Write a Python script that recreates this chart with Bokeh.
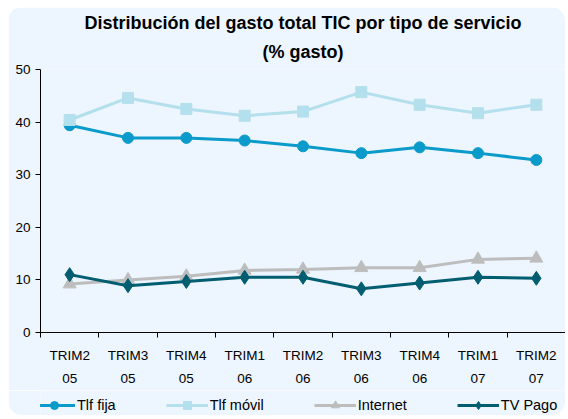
from bokeh.plotting import figure
from bokeh.models import FixedTicker, Legend, LegendItem, Title, Range1d
from bokeh.layouts import column
from bokeh.embed import file_html
from bokeh.resources import INLINE

categories = ["TRIM2\n05", "TRIM3\n05", "TRIM4\n05", "TRIM1\n06", "TRIM2\n06",
              "TRIM3\n06", "TRIM4\n06", "TRIM1\n07", "TRIM2\n07"]
tlf_fija = [39.4, 37.0, 37.0, 36.5, 35.4, 34.1, 35.2, 34.1, 32.8]
tlf_movil = [40.4, 44.6, 42.5, 41.2, 42.0, 45.7, 43.3, 41.7, 43.3]
internet = [9.2, 10.0, 10.7, 11.8, 12.0, 12.3, 12.3, 13.9, 14.1]
tv_pago = [11.0, 8.9, 9.7, 10.5, 10.5, 8.3, 9.4, 10.5, 10.3]
y_ticks = [0, 10, 20, 30, 40, 50]

BG = "#EDF5FE"
FONT = "Liberation Sans"

xs = [i + 0.5 for i in range(len(categories))]

p = figure(frame_width=525, frame_height=263, output_backend="svg", toolbar_location=None,
           x_range=Range1d(0, len(categories)), y_range=Range1d(0, 50),
           min_border_left=32, min_border_right=0, min_border_top=62, min_border_bottom=58,
           background_fill_color=BG, border_fill_color=BG,
           styles={"border-top-left-radius": "14px", "border-top-right-radius": "14px",
                   "overflow": "hidden"})
p.outline_line_color = None
p.grid.visible = False

t2 = Title(text="(% gasto)", align="center", text_font=FONT, text_font_size="18px",
           text_font_style="bold", text_color="black", standoff=15,
           text_line_height=0.8)
t1 = Title(text="Distribución del gasto total TIC por tipo de servicio", align="center",
           text_font=FONT, text_font_size="18px", text_font_style="bold",
           text_color="black", standoff=0, text_line_height=0.8)
p.add_layout(t2, "above")
p.add_layout(t1, "above")

# x axis
xa = p.xaxis[0]
xa.ticker = FixedTicker(ticks=xs, minor_ticks=list(range(len(categories) + 1)))
xa.major_label_overrides = {x: c for x, c in zip(xs, categories)}
xa.major_tick_line_color = None
xa.minor_tick_line_color = "black"
xa.minor_tick_out = 5
xa.minor_tick_in = 0
xa.axis_line_color = "black"
xa.major_label_text_font = FONT
xa.major_label_text_font_size = "13.5px"
xa.major_label_text_color = "black"
xa.major_label_text_line_height = 1.55
xa.major_label_standoff = 9

ya = p.yaxis[0]
ya.ticker = FixedTicker(ticks=y_ticks)
ya.minor_tick_line_color = None
ya.major_tick_out = 5
ya.major_tick_in = 0
ya.axis_line_color = "black"
ya.major_tick_line_color = "black"
ya.major_label_text_font = FONT
ya.major_label_text_font_size = "13.5px"
ya.major_label_text_color = "black"
ya.major_label_standoff = 5

series = [
    ("Tlf fija", tlf_fija, "#0A9BCB", "circle", 11),
    ("Tlf móvil", tlf_movil, "#B3E0EC", "square", 11),
    ("Internet", internet, "#BDBDBD", "triangle", 13),
    ("TV Pago", tv_pago, "#005E70", "diamond", 14),
]

# legend strip below the chart (its data lies outside its visible range)
pl = figure(width=557, height=25, output_backend="svg", toolbar_location=None,
            x_range=Range1d(0, 1), y_range=Range1d(100, 101),
            x_axis_location=None, y_axis_location=None,
            min_border_left=0, min_border_right=0, min_border_top=0, min_border_bottom=0,
            background_fill_color=BG, border_fill_color=BG,
            styles={"border-bottom-left-radius": "14px", "border-bottom-right-radius": "14px",
                    "overflow": "hidden"})
pl.outline_line_color = None
pl.grid.visible = False

items = []
for name, vals, col, mk, sz in series:
    p.line(xs, vals, line_color=col, line_width=3)
    p.scatter(xs, vals, marker=mk, size=sz, fill_color=col, line_color=col)
    ll = pl.line(xs, vals, line_color=col, line_width=3)
    ls = pl.scatter(xs, vals, marker=mk, size=sz, fill_color=col, line_color=col)
    items.append(LegendItem(label=name, renderers=[ll, ls]))

legend = Legend(items=items, orientation="horizontal", location=(-7, 0),
                background_fill_alpha=0, border_line_color=None,
                label_text_font=FONT, label_text_font_size="14.5px",
                label_text_color="black", glyph_width=42, glyph_height=20,
                spacing=50, label_standoff=2, padding=0, margin=0)
pl.add_layout(legend, "center")

layout = column(p, pl, spacing=0, styles={"margin-left": "8px", "margin-top": "7px"})

open("out.html", "w").write(file_html(layout, INLINE))
